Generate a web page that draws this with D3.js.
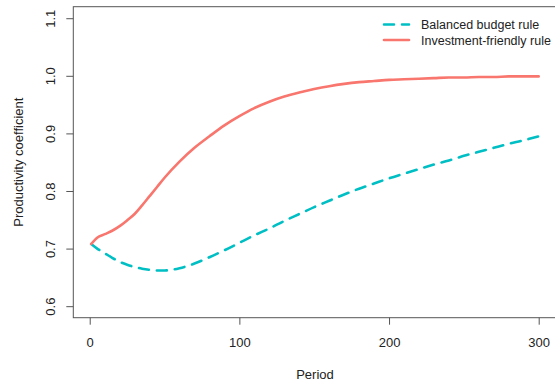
<!DOCTYPE html>
<html>
<head>
<meta charset="utf-8">
<script src="https://cdn.jsdelivr.net/npm/d3@7/dist/d3.min.js"></script>
<style>
  body { margin: 0; background: #fff; }
  svg { display: block; font-family: "Liberation Sans", Arial, sans-serif; }
</style>
</head>
<body>
<div id="chart"></div>
<script>
// data
const periods = [1, 5, 10, 15, 20, 25, 30, 35, 40, 45, 50, 60, 70, 80, 90, 100, 110, 120, 130, 140,
  150, 160, 170, 180, 190, 200, 210, 220, 230, 240, 250, 260, 270, 280, 290, 300];
const balanced = [0.708, 0.700, 0.692, 0.684, 0.677, 0.672, 0.668, 0.665, 0.663, 0.662, 0.662, 0.666,
  0.674, 0.685, 0.697, 0.710, 0.723, 0.735, 0.748, 0.760, 0.772, 0.783, 0.794, 0.804, 0.813, 0.822,
  0.830, 0.838, 0.846, 0.853, 0.861, 0.868, 0.875, 0.882, 0.888, 0.895];
const investment = [0.708, 0.719, 0.725, 0.731, 0.739, 0.749, 0.760, 0.775, 0.791, 0.807, 0.823, 0.851,
  0.875, 0.895, 0.914, 0.930, 0.944, 0.955, 0.964, 0.971, 0.977, 0.982, 0.986, 0.989, 0.991, 0.993,
  0.994, 0.995, 0.996, 0.997, 0.997, 0.998, 0.998, 0.999, 0.999, 0.999];
const xTicks = [0, 100, 200, 300];
const yTicks = [0.6, 0.7, 0.8, 0.9, 1.0, 1.1];
const seriesNames = ['Balanced budget rule', 'Investment-friendly rule'];

const width = 555, height = 385;
const box = {left: 73.3, right: 556.6, top: 6.7, bottom: 317.7};

const svg = d3.select('#chart').append('svg')
  .attr('width', width)
  .attr('height', height);

// R pads the range by 4% on each side
const xPad = (300 - 1) * 0.04;
const x = d3.scaleLinear().domain([1 - xPad, 300 + xPad]).range([box.left, box.right]);
const y = d3.scaleLinear().domain([0.58, 1.12]).range([box.bottom, box.top]);

const series = [
  {name: seriesNames[0], values: balanced, color: '#00BFC4', dash: '10,8'},
  {name: seriesNames[1], values: investment, color: '#F8766D', dash: null}
];

const line = d3.line()
  .x(d => x(d[0]))
  .y(d => y(d[1]))
  .curve(d3.curveMonotoneX);

const plot = svg.append('g');
plot.append('clipPath').attr('id', 'clip')
  .append('rect')
  .attr('x', box.left).attr('y', box.top)
  .attr('width', box.right - box.left).attr('height', box.bottom - box.top);

series.forEach(s => {
  plot.append('path')
    .datum(periods.map((p, i) => [p, s.values[i]]))
    .attr('clip-path', 'url(#clip)')
    .attr('fill', 'none')
    .attr('stroke', s.color)
    .attr('stroke-width', 2.6)
    .attr('stroke-linecap', 'round')
    .attr('stroke-linejoin', 'round')
    .attr('stroke-dasharray', s.dash)
    .attr('d', line);
});

// box
svg.append('rect')
  .attr('x', box.left).attr('y', box.top)
  .attr('width', box.right - box.left).attr('height', box.bottom - box.top)
  .attr('fill', 'none')
  .attr('stroke', '#555')
  .attr('stroke-width', 1);

// x axis
const xAxis = svg.append('g')
  .attr('transform', `translate(0,${box.bottom})`)
  .call(d3.axisBottom(x).tickValues(xTicks).tickSize(7).tickFormat(d3.format('d')));
xAxis.select('.domain').remove();
xAxis.selectAll('.tick line').attr('stroke', '#555');
xAxis.selectAll('.tick text')
  .attr('y', 29).attr('dy', 0)
  .attr('fill', '#222')
  .style('font-size', '13px')
  .style('font-family', '"Liberation Sans", Arial, sans-serif');

// y axis, labels parallel to the axis as in R
const yAxis = svg.append('g')
  .attr('transform', `translate(${box.left},0)`)
  .call(d3.axisLeft(y).tickValues(yTicks).tickSize(7).tickFormat(d3.format('.1f')));
yAxis.select('.domain').remove();
yAxis.selectAll('.tick line').attr('stroke', '#555');
yAxis.selectAll('.tick text')
  .attr('x', null).attr('dy', 0)
  .attr('text-anchor', 'middle')
  .attr('transform', 'translate(-18,0) rotate(-90)')
  .attr('fill', '#222')
  .style('font-size', '13px')
  .style('font-family', '"Liberation Sans", Arial, sans-serif');

// axis titles
svg.append('text')
  .attr('x', (box.left + box.right) / 2)
  .attr('y', 379)
  .attr('text-anchor', 'middle')
  .attr('fill', '#222')
  .style('font-size', '13px')
  .text('Period');

svg.append('text')
  .attr('transform', `translate(23,${(box.top + box.bottom) / 2}) rotate(-90)`)
  .attr('text-anchor', 'middle')
  .attr('fill', '#222')
  .style('font-size', '13px')
  .text('Productivity coefficient');

// legend (no frame)
const legend = svg.append('g');
series.forEach((s, i) => {
  const cy = 24.5 + i * 15.5;
  legend.append('line')
    .attr('x1', 384).attr('x2', 409)
    .attr('y1', cy).attr('y2', cy)
    .attr('stroke', s.color)
    .attr('stroke-width', 2.6)
    .attr('stroke-linecap', 'round')
    .attr('stroke-dasharray', s.dash);
  legend.append('text')
    .attr('x', 421)
    .attr('y', cy + 4.5)
    .attr('fill', '#222')
    .style('font-size', '12.5px')
    .text(s.name);
});
</script>
</body>
</html>
